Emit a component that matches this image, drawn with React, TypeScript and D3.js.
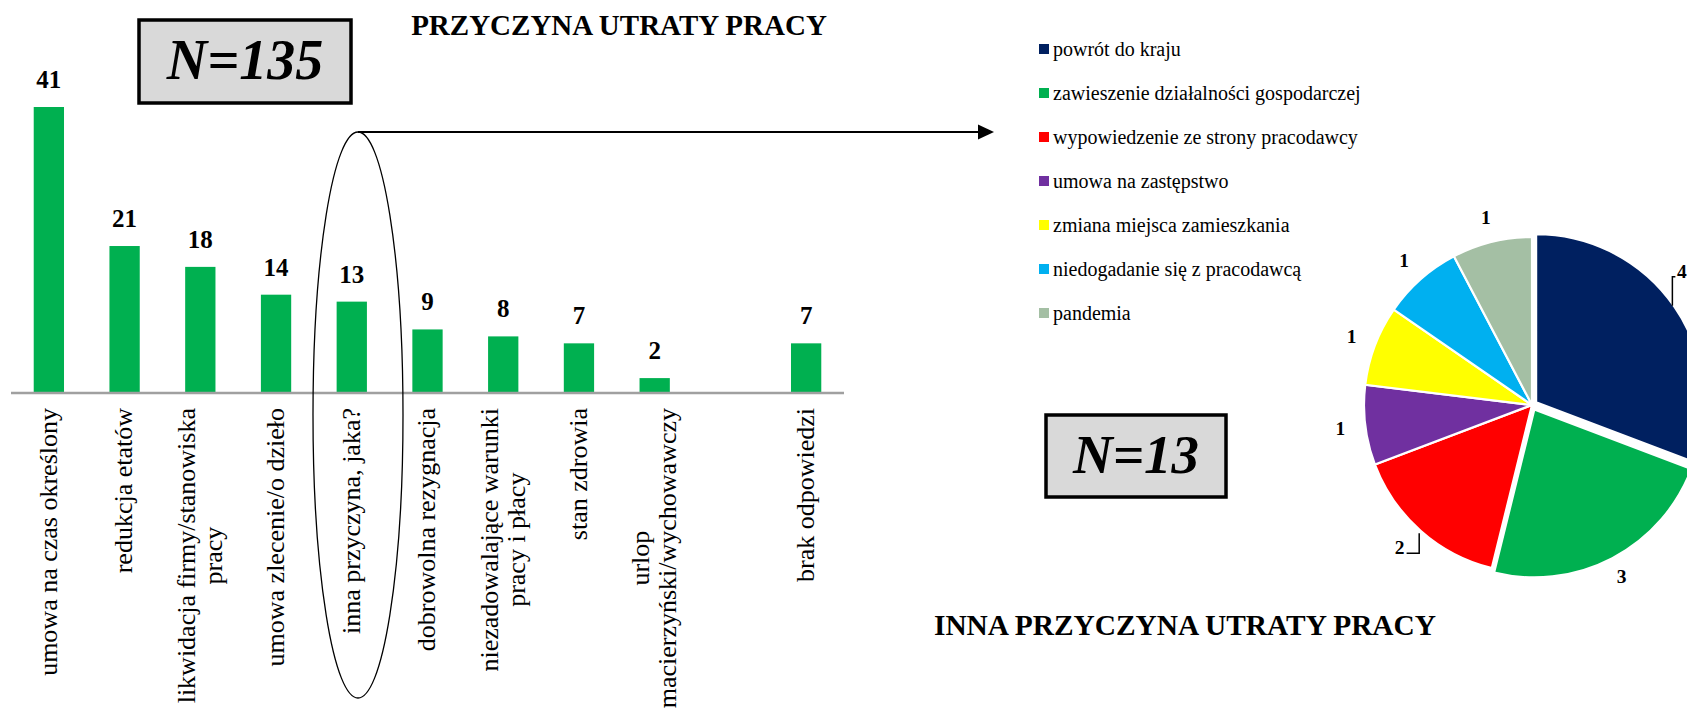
import React, { useEffect, useRef } from 'react';
import * as d3 from 'd3';

// ---- Bar chart data ----
const categories: string[] = [
  'umowa na czas określony',
  'redukcja etatów',
  'likwidacja firmy/stanowiska\npracy',
  'umowa zlecenie/o dzieło',
  'inna przyczyna, jaka?',
  'dobrowolna rezygnacja',
  'niezadowalające warunki\npracy i płacy',
  'stan zdrowia',
  'urlop\nmacierzyński/wychowawczy',
  '',
  'brak odpowiedzi',
];
const counts: (number | null)[] = [41, 21, 18, 14, 13, 9, 8, 7, 2, null, 7];
const barTitle = 'PRZYCZYNA UTRATY PRACY';
const barTotal = 'N=135';

// ---- Pie chart data ----
const otherReasons: string[] = [
  'powrót do kraju',
  'zawieszenie działalności gospodarczej',
  'wypowiedzenie ze strony pracodawcy',
  'umowa na zastępstwo',
  'zmiana miejsca zamieszkania',
  'niedogadanie się z pracodawcą',
  'pandemia',
];
const otherCounts: number[] = [4, 3, 2, 1, 1, 1, 1];
const otherColors: string[] = ['#002060', '#00B050', '#FF0000', '#7030A0', '#FFFF00', '#00B0F0', '#A4BFA4'];
const pieTitle = 'INNA PRZYCZYNA UTRATY PRACY';
const pieTotal = 'N=13';

const W = 1687;
const H = 714;
const SERIF = "'Liberation Serif', 'Times New Roman', serif";

export default function App() {
  const ref = useRef<SVGSVGElement | null>(null);

  useEffect(() => {
    const svg = d3.select(ref.current);
    svg.selectAll('*').remove();

    // ===== BAR CHART =====
    const x = d3
      .scaleBand<string>()
      .domain(categories.map((_, i) => String(i)))
      .range([11, 844])
      .paddingInner(0.6)
      .paddingOuter(0.3);
    const maxV = d3.max(counts, (d) => d ?? 0) as number;
    const y = d3.scaleLinear().domain([0, maxV]).range([392, 107]);

    const bars = svg.append('g');
    counts.forEach((v, i) => {
      if (v == null) return;
      const xi = x(String(i)) as number;
      bars
        .append('rect')
        .attr('x', xi)
        .attr('y', y(v))
        .attr('width', x.bandwidth())
        .attr('height', y(0) - y(v))
        .attr('fill', '#00B050');
      bars
        .append('text')
        .attr('x', xi + x.bandwidth() / 2)
        .attr('y', y(v) - 19)
        .attr('text-anchor', 'middle')
        .attr('font-family', SERIF)
        .attr('font-weight', 'bold')
        .attr('font-size', 25)
        .text(String(v));
    });

    svg
      .append('line')
      .attr('x1', x.range()[0])
      .attr('x2', x.range()[1])
      .attr('y1', y(0) + 1)
      .attr('y2', y(0) + 1)
      .attr('stroke', '#A0A0A0')
      .attr('stroke-width', 2.5);

    // category labels (rotated)
    const fs = 26;
    const lh = 27;
    categories.forEach((c, i) => {
      if (!c) return;
      const lines = c.split('\n');
      const cx = (x(String(i)) as number) + x.bandwidth() / 2;
      const g = svg.append('g').attr('transform', `translate(${cx},${y(0) + 16}) rotate(-90)`);
      const texts = lines.map((ln, j) =>
        g
          .append('text')
          .attr('text-anchor', 'middle')
          .attr('font-family', SERIF)
          .attr('font-size', fs)
          .attr('y', (j - (lines.length - 1) / 2) * lh + fs * 0.3)
          .text(ln)
      );
      const L = d3.max(texts, (t) => (t.node() as SVGTextElement).getComputedTextLength()) as number;
      texts.forEach((t) => t.attr('x', -L / 2));
    });

    // ellipse + arrow
    svg
      .append('ellipse')
      .attr('cx', 358)
      .attr('cy', 415)
      .attr('rx', 45)
      .attr('ry', 283)
      .attr('fill', 'none')
      .attr('stroke', '#000')
      .attr('stroke-width', 1.3);
    svg
      .append('line')
      .attr('x1', 358)
      .attr('x2', 980)
      .attr('y1', 132)
      .attr('y2', 132)
      .attr('stroke', '#000')
      .attr('stroke-width', 2.2);
    svg.append('path').attr('d', 'M978,124.5 L994,132 L978,139.5 Z').attr('fill', '#000');

    // N=135 box
    svg
      .append('rect')
      .attr('x', 139)
      .attr('y', 20)
      .attr('width', 212)
      .attr('height', 83)
      .attr('fill', '#D9D9D9')
      .attr('stroke', '#000')
      .attr('stroke-width', 3.5);
    svg
      .append('text')
      .attr('x', 245)
      .attr('y', 79)
      .attr('text-anchor', 'middle')
      .attr('font-family', SERIF)
      .attr('font-weight', 'bold')
      .attr('font-style', 'italic')
      .attr('font-size', 56)
      .text(barTotal);

    // bar title
    svg
      .append('text')
      .attr('x', 619)
      .attr('y', 35)
      .attr('text-anchor', 'middle')
      .attr('font-family', SERIF)
      .attr('font-weight', 'bold')
      .attr('font-size', 29)
      .text(barTitle);

    // ===== LEGEND =====
    otherReasons.forEach((r, i) => {
      const cy = 49 + i * 44;
      svg
        .append('rect')
        .attr('x', 1039)
        .attr('y', cy - 5)
        .attr('width', 10)
        .attr('height', 10)
        .attr('fill', otherColors[i]);
      svg
        .append('text')
        .attr('x', 1053)
        .attr('y', cy + 6.5)
        .attr('font-family', SERIF)
        .attr('font-size', 20)
        .text(r);
    });

    // ===== PIE =====
    const pcx = 1532;
    const pcy = 405;
    const R = 168;
    const pie = d3.pie<number>().sort(null).value((d) => d);
    const arcs = pie(otherCounts);
    const arc = d3.arc<d3.PieArcDatum<number>>().innerRadius(0).outerRadius(R);
    const explode = (i: number) => (i < 2 ? 5 : 0);
    const pg = svg.append('g').attr('transform', `translate(${pcx},${pcy})`);
    arcs.forEach((a, i) => {
      const mid = (a.startAngle + a.endAngle) / 2;
      const e = explode(i);
      pg.append('path')
        .attr('d', arc(a) as string)
        .attr('transform', `translate(${e * Math.sin(mid)},${-e * Math.cos(mid)})`)
        .attr('fill', otherColors[i])
        .attr('stroke', '#fff')
        .attr('stroke-width', 2.2);
    });
    arcs.forEach((a, i) => {
      const mid = (a.startAngle + a.endAngle) / 2;
      const ex = R * Math.sin(mid) + explode(i) * Math.sin(mid);
      const ey = -R * Math.cos(mid) - explode(i) * Math.cos(mid);
      const lbl = pg
        .append('text')
        .attr('font-family', SERIF)
        .attr('font-weight', 'bold')
        .attr('font-size', 19.5)
        .text(String(a.data));
      if (i === 0) {
        // label pushed inside the chart edge with leader line
        lbl.attr('x', ex + 2.5).attr('y', ey - 29).attr('text-anchor', 'start');
        pg.append('path')
          .attr('d', `M${ex - 2},${ey - 1} V${ey - 30} H${ex + 1}`)
          .attr('fill', 'none')
          .attr('stroke', '#000')
          .attr('stroke-width', 1.5);
      } else if (i === 2) {
        lbl.attr('x', ex - 16).attr('y', ey + 23).attr('text-anchor', 'end');
        pg.append('path')
          .attr('d', `M${ex - 1.4},${ey + 2.5} V${ey + 22.5} H${ex - 14}`)
          .attr('fill', 'none')
          .attr('stroke', '#000')
          .attr('stroke-width', 1.5);
      } else {
        const lr = 193;
        lbl
          .attr('x', lr * Math.sin(mid))
          .attr('y', -lr * Math.cos(mid) + 19 * 0.35)
          .attr('text-anchor', 'middle');
      }
    });

    // N=13 box
    svg
      .append('rect')
      .attr('x', 1046)
      .attr('y', 415)
      .attr('width', 180)
      .attr('height', 82)
      .attr('fill', '#D9D9D9')
      .attr('stroke', '#000')
      .attr('stroke-width', 3.5);
    svg
      .append('text')
      .attr('x', 1136)
      .attr('y', 473)
      .attr('text-anchor', 'middle')
      .attr('font-family', SERIF)
      .attr('font-weight', 'bold')
      .attr('font-style', 'italic')
      .attr('font-size', 55)
      .text(pieTotal);

    // pie title
    svg
      .append('text')
      .attr('x', 1185)
      .attr('y', 635)
      .attr('text-anchor', 'middle')
      .attr('font-family', SERIF)
      .attr('font-weight', 'bold')
      .attr('font-size', 29.4)
      .text(pieTitle);
  }, []);

  return (
    <svg
      ref={ref}
      width={W}
      height={H}
      style={{ position: 'absolute', left: 0, top: 0, background: '#fff', display: 'block' }}
    />
  );
}
